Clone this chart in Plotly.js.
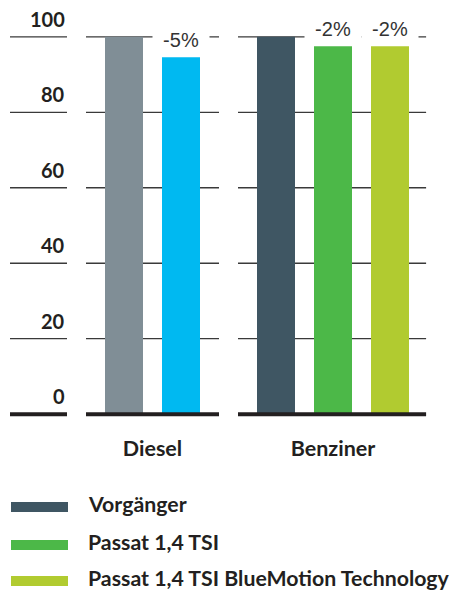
<!DOCTYPE html>
<html>
<head>
<meta charset="utf-8">
<script src="https://cdn.plot.ly/plotly-3.0.1.min.js"></script>
<style>
  html, body { margin: 0; padding: 0; background: #ffffff; }
  #chart { width: 456px; height: 590px; }
</style>
</head>
<body>
<div id="chart"></div>
<script>
// ---- data ----
const groups = ['Diesel', 'Benziner'];
const dieselValues = [100, 94.6];
const benzinValues = [100, 97.5, 97.5];
const dieselLabels = ['', '-5%'];
const benzinLabels = ['', '-2%', '-2%'];
const dieselColors = ['#808e96', '#00b9f1'];
const benzinColors = ['#3f5663', '#4cb848', '#b1cb30'];
const legendNames = ['Vorgänger', 'Passat 1,4 TSI', 'Passat 1,4 TSI BlueMotion Technology'];
const tickValues = [0, 20, 40, 60, 80, 100];
const tickLabels = ['0', '20', '40', '60', '80', '100'];

// ---- layout helpers ----
const STEP = 3;            // distance between bar centres (x units)
const groupStart = [0, 8]; // first bar of each group
const W = 456, H = 590;
const M = { l: 10, r: 28, t: 18, b: 157 };
const plotW = W - M.l - M.r, plotH = H - M.t - M.b;
const pxX = px => (px - M.l) / plotW;
const pxY = py => (H - M.b - py) / plotH;

const dieselX = dieselValues.map((_, i) => groupStart[0] + i * STEP);
const benzinX = benzinValues.map((_, i) => groupStart[1] + i * STEP);
const groupCenters = [dieselX, benzinX].map(a => (a[0] + a[a.length - 1]) / 2);

const darkText = '#231f20';
const boldFont = (size) => ({ family: 'Lato, "Open Sans", sans-serif', size: size, color: darkText, weight: 'bold' });

const traces = [
  { type: 'bar', x: dieselX, y: dieselValues, width: 2, marker: { color: dieselColors }, showlegend: false, hoverinfo: 'skip' },
  { type: 'bar', x: benzinX, y: benzinValues, width: 2, marker: { color: benzinColors }, showlegend: false, hoverinfo: 'skip' }
];

// grid segments
const segments = [[-6, -3], [-2, 5], [6, 15.9]];
const shapes = [];
tickValues.forEach(v => {
  segments.forEach(s => {
    shapes.push({
      type: 'line', xref: 'x', yref: 'y', x0: s[0], x1: s[1], y0: v, y1: v,
      layer: v === 0 ? 'above' : 'below',
      line: { color: v === 0 ? darkText : '#3a3a3a', width: v === 0 ? 4 : 1.3 }
    });
  });
});

const annotations = [];
// y tick labels
tickValues.forEach((v, i) => {
  annotations.push({
    xref: 'x', yref: 'y', x: -3, y: v, xanchor: 'right', yanchor: 'bottom',
    yshift: 4, showarrow: false, text: tickLabels[i], font: boldFont(20)
  });
});
// delta labels
[[dieselX, dieselValues, dieselLabels], [benzinX, benzinValues, benzinLabels]].forEach(g => {
  g[0].forEach((x, i) => {
    if (!g[2][i]) return;
    annotations.push({
      xref: 'x', yref: 'y', x: x, y: g[1][i], xanchor: 'center', yanchor: 'bottom',
      yshift: 3, showarrow: false, text: g[2][i], bgcolor: '#ffffff', width: 52, borderpad: 2,
      font: { family: '"Liberation Sans", Arial, sans-serif', size: 20, color: '#333333' }
    });
  });
});
// legend
const legendRows = [507, 545, 581];
legendNames.forEach((name, i) => {
  const cy = legendRows[i];
  shapes.push({
    type: 'rect', xref: 'paper', yref: 'paper',
    x0: pxX(11), x1: pxX(68), y0: pxY(cy + 5), y1: pxY(cy - 5),
    fillcolor: benzinColors[i], line: { width: 0 }
  });
  annotations.push({
    xref: 'paper', yref: 'paper', x: pxX(86), y: pxY(cy - 3.5), xanchor: 'left', yanchor: 'middle',
    showarrow: false, text: name, font: boldFont(21.3)
  });
});

const layout = {
  width: W, height: H,
  margin: M,
  paper_bgcolor: '#ffffff', plot_bgcolor: '#ffffff',
  showlegend: false,
  xaxis: {
    range: [-6, 16], showgrid: false, zeroline: false, showline: false,
    tickmode: 'array', tickvals: groupCenters, ticktext: groups, ticks: '', ticklen: 0,
    tickfont: boldFont(21.5), fixedrange: true
  },
  yaxis: {
    range: [-5, 105], showgrid: false, zeroline: false, showline: false,
    showticklabels: false, ticks: '', fixedrange: true
  },
  shapes: shapes,
  annotations: annotations
};

Plotly.newPlot('chart', traces, layout, { displayModeBar: false, staticPlot: true });
</script>
</body>
</html>
